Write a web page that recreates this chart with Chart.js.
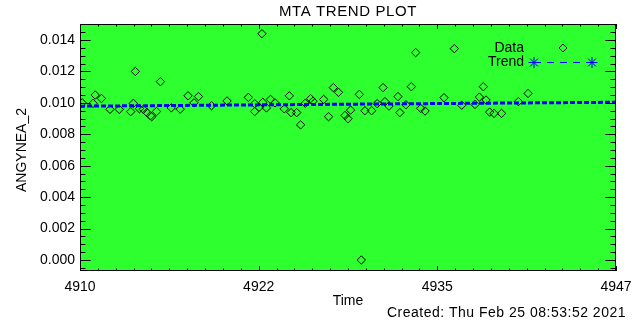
<!DOCTYPE html>
<html>
<head>
<meta charset="utf-8">
<script src="https://cdn.jsdelivr.net/npm/chart.js@4/dist/chart.umd.min.js"></script>
<style>
  html, body { margin: 0; padding: 0; background: #fff; }
  #c { display: block; }
</style>
</head>
<body>
<canvas id="c" width="640" height="320"></canvas>
<script>
// data
const times = [
  4910.15, 4910.90, 4911.05, 4911.48, 4912.07, 4912.71, 4913.50, 4913.68, 4913.82, 4914.10,
  4914.37, 4914.62, 4914.86, 4914.95, 4915.28, 4915.55, 4916.30, 4916.92, 4917.46, 4917.87,
  4918.18, 4919.08, 4920.15, 4921.62, 4922.06, 4922.06, 4922.35, 4922.56, 4922.62, 4922.87,
  4923.15, 4923.46, 4924.10, 4924.45, 4924.57, 4924.96, 4925.23, 4925.55, 4925.92, 4926.08,
  4926.82, 4927.16, 4927.49, 4927.84, 4928.29, 4928.50, 4928.68, 4929.28, 4929.42, 4929.67,
  4930.13, 4930.51, 4930.92, 4931.05, 4931.33, 4931.95, 4932.08, 4932.50, 4932.87, 4933.17,
  4933.52, 4933.82, 4935.13, 4935.84, 4936.35, 4937.27, 4937.57, 4937.84, 4938.03, 4938.28,
  4938.58, 4939.10, 4940.26, 4940.93
];
const values = [
  0.01000, 0.00997, 0.01050, 0.01028, 0.00959, 0.00959, 0.00944, 0.00997, 0.01200, 0.00963,
  0.00959, 0.00938, 0.00918, 0.00912, 0.00945, 0.01135, 0.00968, 0.00960, 0.01045, 0.01000,
  0.01040, 0.00982, 0.01012, 0.01035, 0.00945, 0.00995, 0.00971, 0.01440, 0.01003, 0.00968,
  0.01022, 0.01000, 0.00962, 0.01045, 0.00938, 0.00938, 0.00860, 0.00998, 0.01027, 0.01010,
  0.01022, 0.00912, 0.01097, 0.01067, 0.00920, 0.00899, 0.00954, 0.01054, 0.00000, 0.00950,
  0.00950, 0.00995, 0.01097, 0.01008, 0.00980, 0.01040, 0.00938, 0.00988, 0.01103, 0.01320,
  0.00965, 0.00948, 0.01033, 0.01345, 0.00985, 0.00990, 0.01037, 0.01103, 0.01018, 0.00941,
  0.00933, 0.00933, 0.01008, 0.01060
];
const trendTimes = [4910, 4947];
const trendValues = [0.00979, 0.01004];

const xMin = 4910, xMax = 4947;
const yMin = -0.0007, yMax = 0.01502;
const yTicks = [0, 0.002, 0.004, 0.006, 0.008, 0.010, 0.012, 0.014];

const FONT = '"Liberation Sans", Arial, sans-serif';

// green panel, box, inward ticks, titles and legend (IDL style)
const idlFrame = {
  id: 'idlFrame',
  beforeDatasetsDraw(chart) {
    const { ctx, chartArea: a } = chart;
    ctx.save();
    ctx.fillStyle = '#2eff2e';
    ctx.fillRect(a.left, a.top, a.right - a.left, a.bottom - a.top);
    ctx.restore();
  },
  afterDraw(chart) {
    const { ctx, chartArea: a, scales } = chart;
    const xs = scales.x, ys = scales.y;
    ctx.save();
    ctx.strokeStyle = '#000';
    ctx.lineWidth = 1;
    ctx.strokeRect(a.left + 0.5, a.top + 0.5, a.right - a.left - 1, a.bottom - a.top - 1);

    ctx.beginPath();
    // y ticks, left and right
    const yMajor = 10.7, yMinorLen = 5.5;
    for (let v = -0.0005; v <= yMax + 1e-9; v += 0.0005) {
      const major = Math.abs(v / 0.002 - Math.round(v / 0.002)) < 1e-6;
      const len = major ? yMajor : yMinorLen;
      const py = Math.round(ys.getPixelForValue(v)) + 0.5;
      ctx.moveTo(a.left, py); ctx.lineTo(a.left + len, py);
      ctx.moveTo(a.right, py); ctx.lineTo(a.right - len, py);
    }
    // x ticks, bottom and top
    const step = (xMax - xMin) / 30;
    for (let i = 0; i <= 30; i++) {
      const major = i % 10 === 0;
      const len = major ? 5 : 2.5;
      const px = Math.round(xs.getPixelForValue(xMin + i * step)) + 0.5;
      ctx.moveTo(px, a.bottom); ctx.lineTo(px, a.bottom - len);
      ctx.moveTo(px, a.top); ctx.lineTo(px, a.top + len);
    }
    ctx.stroke();

    // texts
    ctx.fillStyle = '#000';
    ctx.font = '15px ' + FONT;
    ctx.letterSpacing = '0.6px';
    ctx.textAlign = 'center';
    ctx.textBaseline = 'middle';
    ctx.fillText('MTA TREND PLOT', 348, 12);
    ctx.font = '14px ' + FONT;
    ctx.letterSpacing = '0px';
    ctx.fillText('Time', 348, 301);
    ctx.letterSpacing = '0.5px';
    ctx.textAlign = 'right';
    ctx.fillText('Created: Thu Feb 25 08:53:52 2021', 626, 313);
    ctx.letterSpacing = '0px';
    ctx.save();
    ctx.translate(22, 150);
    ctx.rotate(-Math.PI / 2);
    ctx.textAlign = 'center';
    ctx.fillText('ANGYNEA_2', 0, 0);
    ctx.restore();

    // legend
    ctx.textAlign = 'right';
    ctx.fillText('Data', 524, 48);
    ctx.fillText('Trend', 524, 62);
    ctx.beginPath();
    ctx.moveTo(563, 44); ctx.lineTo(567, 48); ctx.lineTo(563, 52); ctx.lineTo(559, 48); ctx.closePath();
    ctx.stroke();
    ctx.strokeStyle = '#0000ff';
    ctx.beginPath();
    ctx.setLineDash([7, 6]);
    ctx.moveTo(534, 62.5); ctx.lineTo(592, 62.5);
    ctx.stroke();
    ctx.setLineDash([]);
    ctx.beginPath();
    [534, 592].forEach(cx => {
      for (let k = 0; k < 4; k++) {
        const ang = k * Math.PI / 4;
        const dx = Math.cos(ang) * 5.5, dy = Math.sin(ang) * 5.5;
        ctx.moveTo(cx - dx, 62.5 - dy); ctx.lineTo(cx + dx, 62.5 + dy);
      }
    });
    ctx.stroke();
    ctx.restore();
  }
};

new Chart(document.getElementById('c'), {
  data: {
    datasets: [
      {
        type: 'scatter',
        label: 'Data',
        data: times.map((t, i) => ({ x: t, y: values[i] })),
        pointStyle: 'rectRot',
        pointRadius: 4.2,
        pointBorderWidth: 1,
        pointBorderColor: '#000',
        pointBackgroundColor: 'rgba(0,0,0,0)',
        order: 1
      },
      {
        type: 'line',
        label: 'Trend',
        data: trendTimes.map((t, i) => ({ x: t, y: trendValues[i] })),
        borderColor: '#0000ff',
        borderWidth: 3,
        borderDash: [5, 2],
        pointRadius: 0,
        fill: false,
        order: 0
      }
    ]
  },
  options: {
    responsive: false,
    animation: false,
    layout: { padding: { top: 24, right: 24, left: 0, bottom: 0 } },
    plugins: { legend: { display: false }, tooltip: { enabled: false }, title: { display: false } },
    scales: {
      x: {
        type: 'linear',
        min: xMin,
        max: xMax,
        afterFit(s) { s.height = 49; },
        afterBuildTicks(s) {
          s.ticks = [0, 1, 2, 3].map(k => ({ value: xMin + k * (xMax - xMin) / 3 }));
        },
        grid: { display: false, drawTicks: false },
        border: { display: false },
        ticks: {
          padding: 8,
          maxRotation: 0,
          color: '#000',
          font: { family: FONT, size: 14 },
          callback: v => String(Math.round(v))
        }
      },
      y: {
        type: 'linear',
        min: yMin,
        max: yMax,
        afterFit(s) { s.width = 80; },
        afterBuildTicks(s) { s.ticks = yTicks.map(v => ({ value: v })); },
        grid: { display: false, drawTicks: false },
        border: { display: false },
        ticks: {
          padding: 5,
          color: '#000',
          font: { family: FONT, size: 14 },
          callback: v => v.toFixed(3)
        }
      }
    }
  },
  plugins: [idlFrame]
});
</script>
</body>
</html>
